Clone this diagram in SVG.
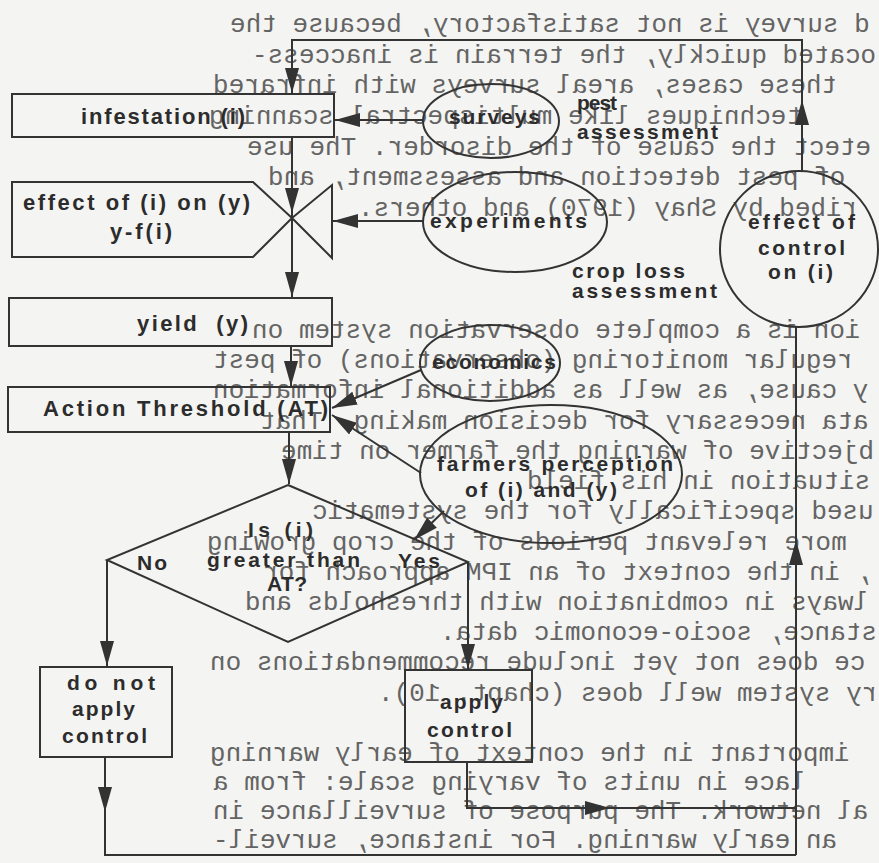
<svg xmlns="http://www.w3.org/2000/svg" width="879" height="863" viewBox="0 0 879 863">
<style>
.mir{font-family:"Liberation Mono","DejaVu Sans Mono",monospace;font-size:26px;fill:#646464;white-space:pre}
.shape{fill:none;stroke:#333;stroke-width:2}
.conn{fill:none;stroke:#333;stroke-width:2}
.lbl{font-family:"Liberation Sans",Arial,sans-serif;font-weight:bold;font-size:21px;fill:#2c2c2c}
.big{font-size:22px}
</style>
<defs>
<marker id="ah" markerWidth="26" markerHeight="14" refX="25" refY="7" orient="auto" markerUnits="userSpaceOnUse">
<path d="M0,0 L25,7 L0,14 Z" fill="#333"/>
</marker>
</defs>
<rect width="879" height="863" fill="#f4f4f2"/>

<g id="bleed-through" class="mir" transform="scale(-1,1)" text-anchor="end" xml:space="preserve">
<text x="-230" y="32">d survey is not satisfactory, because the</text>
<text x="-252" y="63">ocated quickly, the terrain is inaccess-</text>
<text x="-213" y="93">these  cases, areal surveys with infrared</text>
<text x="-209" y="124">techniques like multispectral scanning</text>
<text x="-247" y="155">etect the cause of the disorder. The use</text>
<text x="-268" y="185">of pest detection and assessment, and</text>
<text x="-358" y="216">ribed by Shay (1970) and others.</text>
<text x="-252" y="338">ion is a complete observation system on</text>
<text x="-213" y="368">regular monitoring (observations) of pest</text>
<text x="-213" y="398">y cause, as well as additional information</text>
<text x="-260" y="429">ata necessary for decision making. That</text>
<text x="-281" y="459">bjective of warning the farmer on time</text>
<text x="-527" y="489">situation in his field</text>
<text x="-312" y="519">used specifically for the systematic</text>
<text x="-207" y="550">more relevant periods of the crop growing</text>
<text x="-263" y="580">, in the context of an IPM approach for</text>
<text x="-245" y="610">lways in combination with thresholds and</text>
<text x="-440" y="640">stance, socio-economic data.</text>
<text x="-210" y="670">ce does not yet include recommendations on</text>
<text x="-378" y="701">ry system well does (chapt. 10).</text>
<text x="-210" y="761">important in the context of early warning</text>
<text x="-213" y="790">lace in units of varying scale: from a</text>
<text x="-213" y="819">al network. The purpose of surveillance in</text>
<text x="-213" y="848">an early warning. For instance, surveil-</text>
</g>

<g id="connectors">
<path class="conn" d="M802,171 V100" marker-end="url(#ah)"/>
<path class="conn" d="M802,101 V40 H292 V93" marker-end="url(#ah)"/>
<path class="conn" d="M423,120 H335" marker-end="url(#ah)"/>
<path class="conn" d="M292,137 V213" marker-end="url(#ah)"/>
<path class="conn" d="M292,212 V297" marker-end="url(#ah)"/>
<path class="conn" d="M423,221 H333" marker-end="url(#ah)"/>
<path class="conn" d="M291,346 V386" marker-end="url(#ah)"/>
<path class="conn" d="M289,432 V484" marker-end="url(#ah)"/>
<path class="conn" d="M421,370 L332,408" marker-end="url(#ah)"/>
<path class="conn" d="M421,473 L332,415" marker-end="url(#ah)"/>
<path class="conn" d="M444,511 L414,540" marker-end="url(#ah)"/>
<path class="conn" d="M107,560 V666" marker-end="url(#ah)"/>
<path class="conn" d="M105,757 V812" marker-end="url(#ah)"/>
<path class="conn" d="M105,811 V855 H796"/>
<path class="conn" d="M468,562 V669" marker-end="url(#ah)"/>
<path class="conn" d="M467,762 V808 H610" marker-end="url(#ah)"/>
<path class="conn" d="M609,808 H796"/>
<path class="conn" d="M796,855 V540" marker-end="url(#ah)"/>
<path class="conn" d="M796,541 V326"/>
</g>

<g id="infestation">
<rect class="shape" x="12" y="94" width="322" height="43"/>
<text class="lbl big" x="81" y="124" textLength="164" lengthAdjust="spacing">infestation (i)</text>
</g>

<g id="effect">
<path class="shape" d="M12,182 H253 L292,218 L253,257 H12 Z"/>
<path class="shape" d="M292,218 L332,185 V258 Z"/>
<text class="lbl big" x="23" y="210" textLength="227" lengthAdjust="spacing">effect of (i) on (y)</text>
<text class="lbl big" x="110" y="239" textLength="62" lengthAdjust="spacing">y-f(i)</text>
</g>

<g id="yield">
<rect class="shape" x="9" y="298" width="323" height="48"/>
<text class="lbl big" x="137" y="331" textLength="111" lengthAdjust="spacing" xml:space="preserve">yield  (y)</text>
</g>

<g id="action-threshold">
<rect class="shape" x="8" y="387" width="322" height="45"/>
<text class="lbl big" x="43" y="416" textLength="285" lengthAdjust="spacing">Action Threshold (AT)</text>
</g>

<g id="decision">
<polygon class="shape" points="288,485 468,562 288,642 107,560"/>
<text class="lbl" x="248" y="537" textLength="65" lengthAdjust="spacing">Is (i)</text>
<text class="lbl" x="207" y="567" textLength="153" lengthAdjust="spacing">greater than</text>
<text class="lbl" x="267" y="591" textLength="40" lengthAdjust="spacing">AT?</text>
<text class="lbl" x="137" y="570" textLength="30" lengthAdjust="spacing">No</text>
<text class="lbl" x="398" y="568" textLength="42" lengthAdjust="spacing">Yes</text>
</g>

<g id="do-not-apply">
<rect class="shape" x="40" y="667" width="132" height="90"/>
<text class="lbl" x="67" y="690" textLength="88" lengthAdjust="spacing">do not</text>
<text class="lbl" x="72" y="716" textLength="63" lengthAdjust="spacing">apply</text>
<text class="lbl" x="62" y="743" textLength="85" lengthAdjust="spacing">control</text>
</g>

<g id="apply-control">
<rect class="shape" x="405" y="670" width="127" height="92"/>
<text class="lbl" x="440" y="709" textLength="63" lengthAdjust="spacing">apply</text>
<text class="lbl" x="427" y="737" textLength="85" lengthAdjust="spacing">control</text>
</g>

<g id="effect-of-control">
<ellipse class="shape" cx="799" cy="249" rx="79" ry="78"/>
<text class="lbl" x="748" y="229" textLength="107" lengthAdjust="spacing">effect of</text>
<text class="lbl" x="758" y="255" textLength="87" lengthAdjust="spacing">control</text>
<text class="lbl" x="768" y="279" textLength="65" lengthAdjust="spacing">on (i)</text>
</g>

<g id="surveys">
<ellipse class="shape" cx="491" cy="121" rx="68" ry="37"/>
<text class="lbl" x="449" y="124" textLength="91" lengthAdjust="spacing">surveys</text>
</g>

<g id="pest-assessment">
<text class="lbl" x="577" y="110" textLength="40" lengthAdjust="spacing">pest</text>
<text class="lbl" x="577" y="139" textLength="141" lengthAdjust="spacing">assessment</text>
</g>

<g id="experiments">
<ellipse class="shape" cx="515" cy="222" rx="92" ry="50"/>
<text class="lbl" x="430" y="228" textLength="157" lengthAdjust="spacing">experiments</text>
</g>

<g id="crop-loss-assessment">
<text class="lbl" x="572" y="278" textLength="113" lengthAdjust="spacing">crop loss</text>
<text class="lbl" x="572" y="298" textLength="145" lengthAdjust="spacing">assessment</text>
</g>

<g id="economics">
<ellipse class="shape" cx="490" cy="363" rx="70" ry="38"/>
<text class="lbl" x="432" y="369" textLength="124" lengthAdjust="spacing">economics</text>
</g>

<g id="farmers-perception">
<ellipse class="shape" cx="551" cy="474" rx="131" ry="69"/>
<text class="lbl" x="437" y="471" textLength="236" lengthAdjust="spacing">farmers perception</text>
<text class="lbl" x="465" y="497" textLength="152" lengthAdjust="spacing">of (i) and (y)</text>
</g>
</svg>
